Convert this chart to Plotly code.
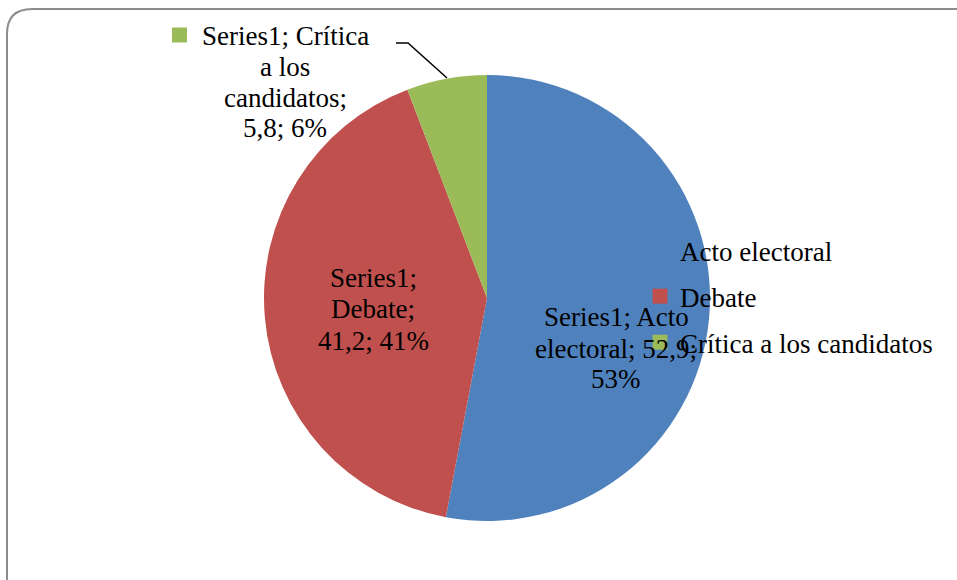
import plotly.graph_objects as go

# ---- data ----
series_name = "Series1"
categories = ["Acto electoral", "Debate", "Crítica a los candidatos"]
values = [52.9, 41.2, 5.8]
percents = ["53%", "41%", "6%"]
value_text = ["52,9", "41,2", "5,8"]
colors = ["#4F81BD", "#C0504D", "#9BBB59"]

W, H = 957, 580
FONT = "Liberation Serif, Times New Roman, serif"
FS = 27


def px(x):
    return x / W


def py(y):
    return 1 - y / H


fig = go.Figure()

# pie centred at (487, 298), radius 223 px
fig.add_trace(go.Pie(
    labels=categories,
    values=values,
    sort=False,
    direction="clockwise",
    rotation=0,
    marker=dict(colors=colors, line=dict(width=0)),
    textinfo="none",
    hoverinfo="label+value+percent",
    showlegend=False,
    domain=dict(x=[px(264), px(710)], y=[py(521), py(75)]),
))

# legend entries (one group per category to control spacing)
for i, c in enumerate(categories):
    fig.add_trace(go.Scatter(
        x=[None], y=[None], mode="markers", name=c,
        marker=dict(symbol="square", size=15, color=colors[i]),
        legendgroup=f"g{i}", showlegend=True, hoverinfo="skip",
    ))

# data labels, one line per annotation (Excel-like tight spacing)
label_lines = [
    [f"{series_name}; Acto", "electoral; " + value_text[0] + ";", percents[0]],
    [f"{series_name};", "Debate;", value_text[1] + "; " + percents[1]],
    [f"{series_name}; Crítica", "a los", "candidatos;", value_text[2] + "; " + percents[2]],
]
label_pos = [
    (616, [317, 348.5, 378.5]),
    (373, [277.5, 308.5, 340.5]),
    (285, [35.5, 67, 97.5, 128.5]),
]
annotations = []
for lines, (cx, ys) in zip(label_lines, label_pos):
    for t, yy in zip(lines, ys):
        annotations.append(dict(
            x=px(cx), y=py(yy), xref="paper", yref="paper",
            text=t, showarrow=False, xanchor="center", yanchor="middle",
            font=dict(family=FONT, size=FS, color="#000000"),
        ))

shapes = [
    # outer rounded border
    dict(type="path", xref="paper", yref="paper",
         path=(f"M {px(7)},{py(640)} L {px(7)},{py(34)} "
               f"Q {px(7)},{py(9)} {px(32)},{py(9)} L {px(1000)},{py(9)}"),
         line=dict(color="#8C8C8C", width=2)),
    # legend key inside the outside label
    dict(type="rect", xref="paper", yref="paper",
         x0=px(172), x1=px(187), y0=py(42.5), y1=py(27.5),
         fillcolor=colors[2], line=dict(width=0)),
    # leader line
    dict(type="path", xref="paper", yref="paper",
         path=f"M {px(396)},{py(43)} L {px(408)},{py(43)} L {px(447)},{py(78)}",
         line=dict(color="#000000", width=1.5)),
]

fig.update_layout(
    width=W, height=H,
    margin=dict(l=0, r=0, t=0, b=0),
    paper_bgcolor="white", plot_bgcolor="white",
    xaxis=dict(visible=False), yaxis=dict(visible=False),
    font=dict(family=FONT, size=FS, color="#000000"),
    legend=dict(
        x=px(640), y=py(226), xanchor="left", yanchor="top",
        bgcolor="rgba(0,0,0,0)", borderwidth=0,
        tracegroupgap=8,
        font=dict(family=FONT, size=FS, color="#000000"),
    ),
    annotations=annotations,
    shapes=shapes,
)

fig.write_html("out.html")
